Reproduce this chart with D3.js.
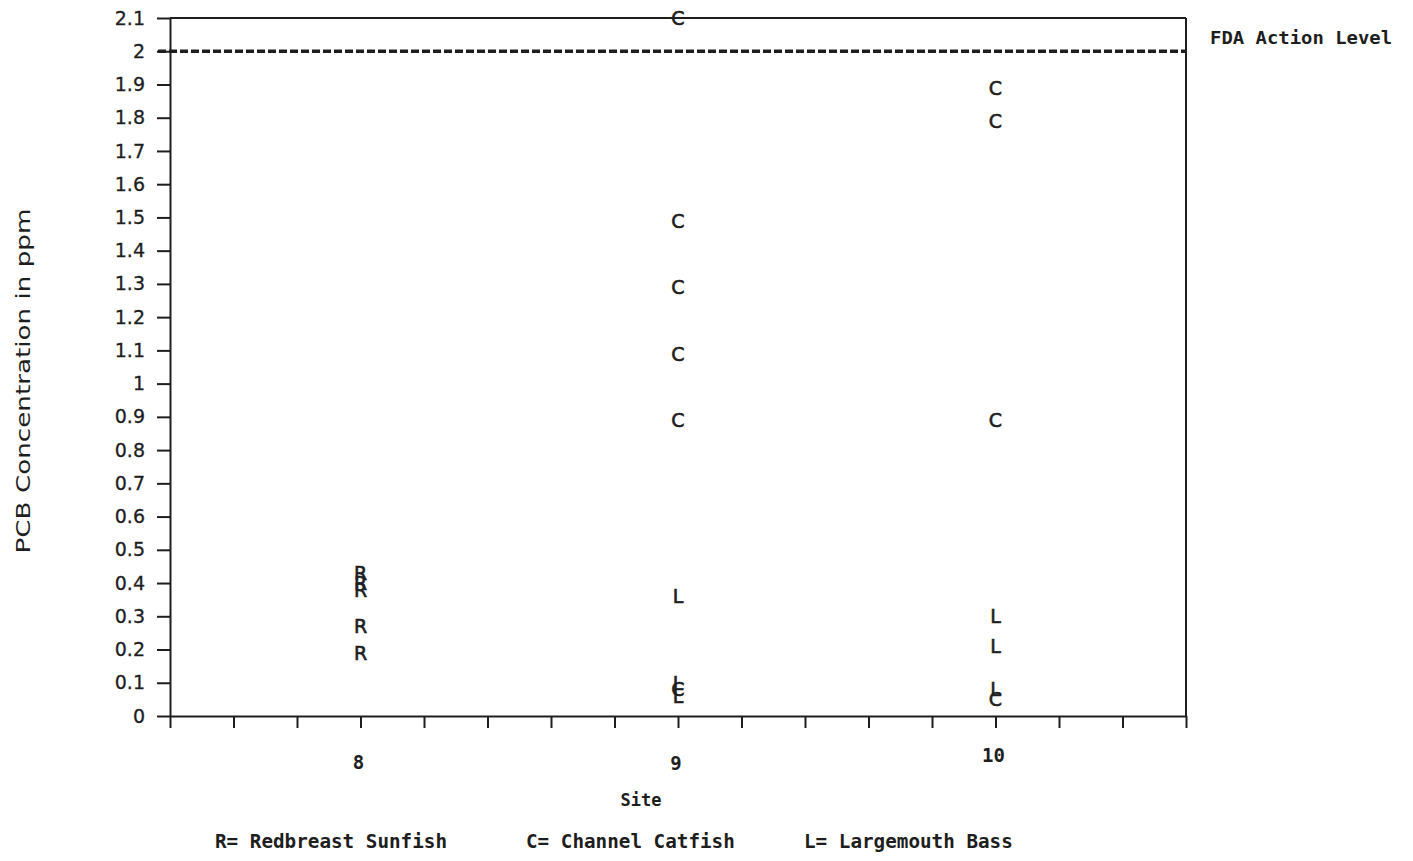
<!DOCTYPE html>
<html>
<head>
<meta charset="utf-8">
<script src="https://cdn.jsdelivr.net/npm/d3@7"></script>
<style>
  body { margin: 0; background: #fff; }
  svg { display: block; }
</style>
</head>
<body>
<div id="chart"></div>
<script>
// data
var sites = [8, 9, 10];
var siteTicks = [7.4, 7.6, 7.8, 8, 8.2, 8.4, 8.6, 8.8, 9, 9.2, 9.4, 9.6, 9.8, 10, 10.2, 10.4, 10.6];
var yTicks = [0, 0.1, 0.2, 0.3, 0.4, 0.5, 0.6, 0.7, 0.8, 0.9, 1, 1.1, 1.2, 1.3, 1.4, 1.5, 1.6, 1.7, 1.8, 1.9, 2, 2.1];
var actionLevel = 2.0;

var sunfishSite8  = [0.43, 0.40, 0.38, 0.27, 0.19];
var catfishSite9  = [2.1, 1.49, 1.29, 1.09, 0.89, 0.08];
var bassSite9     = [0.36, 0.10, 0.06];
var catfishSite10 = [1.89, 1.79, 0.89, 0.05];
var bassSite10    = [0.30, 0.21, 0.08];

var legendItems = ["R= Redbreast Sunfish", "C= Channel Catfish", "L= Largemouth Bass"];

// build the point list
var points = [];
function addPoints(site, letter, values) {
  values.forEach(function(v) { points.push({ site: site, letter: letter, value: v }); });
}
addPoints(8, "R", sunfishSite8);
addPoints(9, "C", catfishSite9);
addPoints(9, "L", bassSite9);
addPoints(10, "C", catfishSite10);
addPoints(10, "L", bassSite10);

var width = 1413, height = 861;

var svg = d3.select("#chart").append("svg")
  .attr("width", width)
  .attr("height", height);

var x = d3.scaleLinear().domain([7.4, 10.6]).range([170, 1186]);
var y = d3.scaleLinear().domain([0, 2.1]).range([716, 18]);

var ink = "#1e1e1e";

// y axis
var yAxis = svg.append("g")
  .attr("transform", "translate(" + x(7.4) + ",0)")
  .call(d3.axisLeft(y).tickValues(yTicks).tickSize(13).tickSizeOuter(0)
    .tickPadding(12)
    .tickFormat(function(d) { return String(+d.toFixed(1)); }));
yAxis.select(".domain").attr("stroke", ink).attr("stroke-width", 2);
yAxis.selectAll(".tick line").attr("stroke", ink).attr("stroke-width", 2);
yAxis.selectAll(".tick text")
  .attr("fill", ink)
  .attr("stroke", ink).attr("stroke-width", 0.3)
  .style("font-family", "DejaVu Sans")
  .style("font-size", "19px");

// x axis
var xAxis = svg.append("g")
  .attr("transform", "translate(0," + y(0) + ")")
  .call(d3.axisBottom(x).tickValues(siteTicks).tickSize(12).tickSizeOuter(0)
    .tickFormat(""));
xAxis.select(".domain").attr("stroke", ink).attr("stroke-width", 2);
xAxis.selectAll(".tick line").attr("stroke", ink).attr("stroke-width", 2);

// frame top and right
svg.append("line")
  .attr("x1", x(7.4)).attr("x2", x(10.6))
  .attr("y1", y(2.1)).attr("y2", y(2.1))
  .attr("stroke", ink).attr("stroke-width", 2);
svg.append("line")
  .attr("x1", x(10.6)).attr("x2", x(10.6))
  .attr("y1", y(2.1)).attr("y2", y(0))
  .attr("stroke", ink).attr("stroke-width", 2);

// FDA action level
svg.append("line")
  .attr("x1", x(7.4) - 12).attr("x2", x(10.6))
  .attr("y1", y(actionLevel)).attr("y2", y(actionLevel))
  .attr("stroke", ink)
  .attr("stroke-width", 3.5)
  .attr("stroke-dasharray", "8,3");

svg.append("text")
  .attr("x", 1210).attr("y", y(actionLevel) - 14)
  .attr("dominant-baseline", "central")
  .attr("textLength", 182).attr("lengthAdjust", "spacingAndGlyphs")
  .style("font-family", "DejaVu Sans Mono")
  .style("font-weight", "bold")
  .style("font-size", "18px")
  .attr("fill", ink)
  .text("FDA Action Level");

// site labels
var siteY = { 8: 762, 9: 763, 10: 755 };
svg.selectAll(".site-label")
  .data(sites)
  .enter().append("text")
  .attr("class", "site-label")
  .attr("x", function(d) { return x(d) - 2; })
  .attr("y", function(d) { return siteY[d]; })
  .attr("text-anchor", "middle")
  .attr("dominant-baseline", "central")
  .style("font-family", "DejaVu Sans Mono")
  .style("font-weight", "bold")
  .style("font-size", "19px")
  .attr("fill", ink)
  .text(function(d) { return d; });

// axis titles
svg.append("text")
  .attr("x", 641).attr("y", 800)
  .attr("text-anchor", "middle")
  .attr("dominant-baseline", "central")
  .style("font-family", "DejaVu Sans Mono")
  .style("font-weight", "bold")
  .style("font-size", "17px")
  .attr("fill", ink)
  .text("Site");

svg.append("text")
  .attr("transform", "translate(23,381) rotate(-90)")
  .attr("text-anchor", "middle")
  .attr("dominant-baseline", "central")
  .attr("textLength", 345).attr("lengthAdjust", "spacingAndGlyphs")
  .style("font-family", "DejaVu Sans")
  .style("font-size", "19px")
  .attr("fill", ink)
  .text("PCB Concentration in ppm");

// legend
var legendX = [215, 526, 804];
svg.selectAll(".legend")
  .data(legendItems)
  .enter().append("text")
  .attr("class", "legend")
  .attr("x", function(d, i) { return legendX[i]; })
  .attr("y", 841)
  .attr("dominant-baseline", "central")
  .attr("textLength", function(d) { return d.length * 11.6; })
  .attr("lengthAdjust", "spacingAndGlyphs")
  .style("font-family", "DejaVu Sans Mono")
  .style("font-weight", "bold")
  .style("font-size", "19px")
  .attr("fill", ink)
  .text(function(d) { return d; });

// data letters
svg.selectAll(".pt")
  .data(points)
  .enter().append("text")
  .attr("class", "pt")
  .attr("x", function(d) { return x(d.site); })
  .attr("y", function(d) { return y(d.value); })
  .attr("text-anchor", "middle")
  .attr("dominant-baseline", "central")
  .style("font-family", "DejaVu Sans")
  .style("font-size", "19px")
  .attr("fill", ink)
  .attr("stroke", ink).attr("stroke-width", 0.6)
  .text(function(d) { return d.letter; });
</script>
</body>
</html>
